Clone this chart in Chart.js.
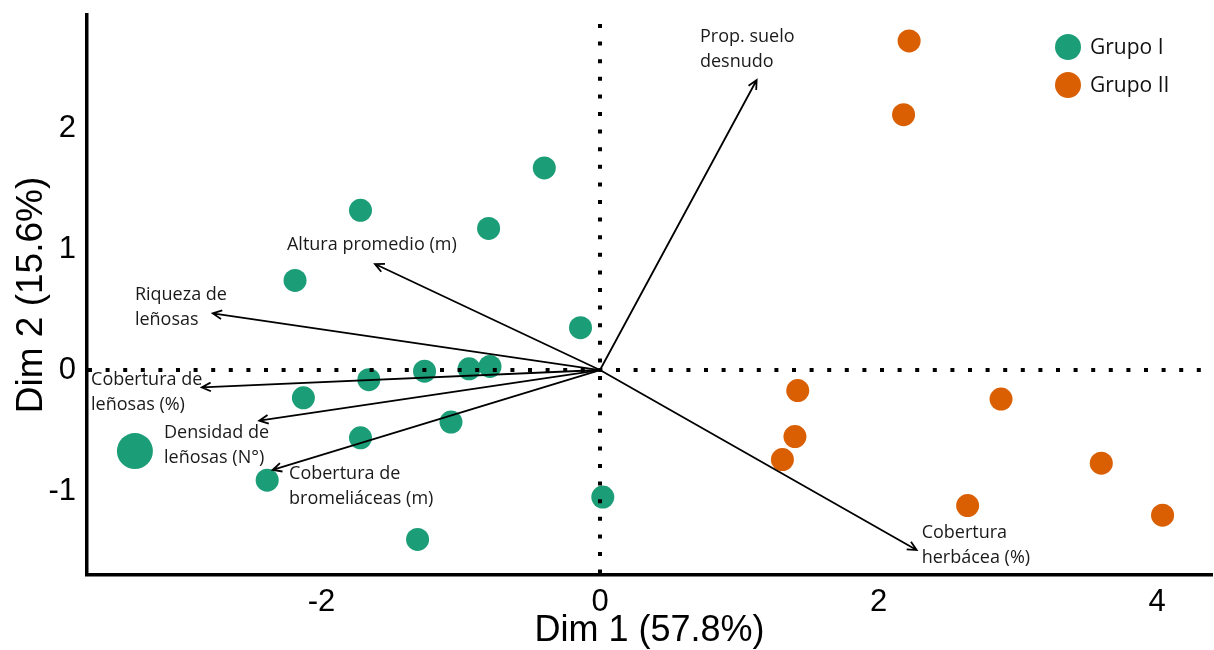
<!DOCTYPE html>
<html>
<head>
<meta charset="utf-8">
<script src="https://cdn.jsdelivr.net/npm/chart.js@4.4.0/dist/chart.umd.min.js"></script>
<style>
  html, body { margin: 0; padding: 0; background: #fff; }
  #wrap { width: 1214px; height: 650px; }
</style>
</head>
<body>
<div id="wrap"><canvas id="biplot" width="1214" height="650"></canvas></div>
<script>
// Individuos (Dim 1, Dim 2)
const grupo1X = [-0.40, -1.72, -0.80, -2.19, -0.14, -0.79, -0.94, -1.26, -1.66, -2.13, -1.07, -1.72, -2.39, 0.02, -1.31];
const grupo1Y = [1.67, 1.32, 1.17, 0.74, 0.35, 0.03, 0.01, -0.01, -0.08, -0.23, -0.43, -0.56, -0.91, -1.05, -1.40];
const grupo2X = [2.22, 2.18, 1.42, 1.40, 1.31, 2.88, 3.60, 2.64, 4.04];
const grupo2Y = [2.72, 2.11, -0.17, -0.55, -0.74, -0.24, -0.77, -1.12, -1.20];
// punto grande del grupo I
const destacadoX = [-3.34];
const destacadoY = [-0.67];

// Variables (flechas desde el origen)
const variables = [
  ['Prop. suelo', 'desnudo'],
  ['Altura promedio (m)'],
  ['Riqueza de', 'leñosas'],
  ['Cobertura de', 'leñosas (%)'],
  ['Densidad de', 'leñosas (N°)'],
  ['Cobertura de', 'bromeliáceas (m)'],
  ['Cobertura', 'herbácea (%)']
];
const varX = [1.125, -1.616, -2.781, -2.860, -2.447, -2.351, 2.274];
const varY = [2.397, 0.876, 0.468, -0.143, -0.419, -0.826, -1.488];

const grupos = ['Grupo I', 'Grupo II'];
const xTicks = [-2, 0, 2, 4];
const yTicks = [-1, 0, 1, 2];
const ejeX = 'Dim 1 (57.8%)';
const ejeY = 'Dim 2 (15.6%)';

// Layout of the text labels (left edge, first line centre), in data units
const etiquetaX = [0.718, -2.248, -3.340, -3.655, -3.131, -2.233, 2.310];
const etiquetaY = [2.752, 1.033, 0.620, -0.083, -0.523, -0.860, -1.348];

const VERDE = '#1B9E77';
const NARANJA = '#D95F02';

const toPoints = (xs, ys) => xs.map((v, i) => ({ x: v, y: ys[i] }));

function flecha(ctx, x1, y1, x2, y2) {
  const ang = Math.atan2(y2 - y1, x2 - x1);
  const h = 10;
  ctx.beginPath();
  ctx.moveTo(x1, y1);
  ctx.lineTo(x2, y2);
  ctx.moveTo(x2 - h * Math.cos(ang - 0.45), y2 - h * Math.sin(ang - 0.45));
  ctx.lineTo(x2, y2);
  ctx.lineTo(x2 - h * Math.cos(ang + 0.45), y2 - h * Math.sin(ang + 0.45));
  ctx.stroke();
}

const biplotDecor = {
  id: 'biplotDecor',
  afterDatasetsDraw(chart) {
    const { ctx, chartArea: a, scales: { x, y } } = chart;
    const x0 = x.getPixelForValue(0);
    const y0 = y.getPixelForValue(0);
    ctx.save();

    // dotted reference lines
    ctx.strokeStyle = '#000';
    ctx.lineWidth = 4;
    ctx.setLineDash([4, 13.6]);
    ctx.beginPath();
    ctx.moveTo(x0, a.top + 9);
    ctx.lineTo(x0, a.bottom);
    ctx.stroke();
    ctx.beginPath();
    ctx.moveTo(a.left + 1, y0);
    ctx.lineTo(a.right - 10, y0);
    ctx.stroke();
    ctx.setLineDash([]);

    // variable arrows
    ctx.lineWidth = 1.8;
    ctx.strokeStyle = '#000';
    varX.forEach((vx, i) => {
      flecha(ctx, x0, y0, x.getPixelForValue(vx), y.getPixelForValue(varY[i]));
    });

    // variable labels
    ctx.fillStyle = '#1a1a1a';
    ctx.font = '18px "Open Sans"';
    ctx.textAlign = 'left';
    ctx.textBaseline = 'middle';
    variables.forEach((lines, i) => {
      const lx = x.getPixelForValue(etiquetaX[i]);
      const ly = y.getPixelForValue(etiquetaY[i]);
      lines.forEach((t, j) => ctx.fillText(t, lx, ly + j * 25));
    });

    // legend (top right)
    ctx.font = '21px "Open Sans"';
    grupos.forEach((g, i) => {
      const cy = a.top + 32 + i * 38;
      const cx = a.right - 144;
      ctx.fillStyle = chart.data.datasets[i].backgroundColor;
      ctx.beginPath();
      ctx.arc(cx, cy, 13, 0, Math.PI * 2);
      ctx.fill();
      ctx.fillStyle = '#111';
      ctx.fillText(g, cx + 22, cy + 1);
    });
    ctx.restore();
  }
};

new Chart(document.getElementById('biplot'), {
  type: 'scatter',
  data: {
    datasets: [
      { label: grupos[0], data: toPoints(grupo1X, grupo1Y), backgroundColor: VERDE, borderWidth: 0, pointRadius: 11.5 },
      { label: grupos[1], data: toPoints(grupo2X, grupo2Y), backgroundColor: NARANJA, borderWidth: 0, pointRadius: 11.5 },
      { label: grupos[0], data: toPoints(destacadoX, destacadoY), backgroundColor: VERDE, borderWidth: 0, pointRadius: 18 }
    ]
  },
  options: {
    responsive: false,
    animation: false,
    devicePixelRatio: 1,
    layout: { autoPadding: false, padding: { top: 15, right: 2, left: 0, bottom: 0 } },
    plugins: { legend: { display: false }, tooltip: { enabled: false } },
    scales: {
      x: {
        type: 'linear',
        min: -3.684,
        max: 4.395,
        afterBuildTicks: s => { s.ticks = xTicks.map(v => ({ value: v })); },
        afterFit: s => { s.height = 75; s.paddingLeft = 0; s.paddingRight = 0; },
        grid: { display: false },
        border: { display: true, color: '#000', width: 3.5 },
        ticks: { color: '#000', font: { family: '"Liberation Sans", Arial', size: 31 }, padding: 1, maxRotation: 0 },
        title: { display: true, text: ejeX, color: '#000', font: { family: '"Liberation Sans", Arial', size: 36 }, padding: { top: 0, bottom: -3 } }
      },
      y: {
        type: 'linear',
        min: -1.694,
        max: 2.934,
        afterBuildTicks: s => { s.ticks = yTicks.map(v => ({ value: v })); },
        afterFit: s => { s.width = 87; s.paddingTop = 0; s.paddingBottom = 0; },
        grid: { display: false },
        border: { display: true, color: '#000', width: 3.5 },
        ticks: { color: '#000', font: { family: '"Liberation Sans", Arial', size: 31 }, padding: 3 },
        title: { display: true, text: ejeY, color: '#000', font: { family: '"Liberation Sans", Arial', size: 37 }, padding: { top: 10, bottom: 0 } }
      }
    }
  },
  plugins: [biplotDecor]
});
</script>
</body>
</html>
